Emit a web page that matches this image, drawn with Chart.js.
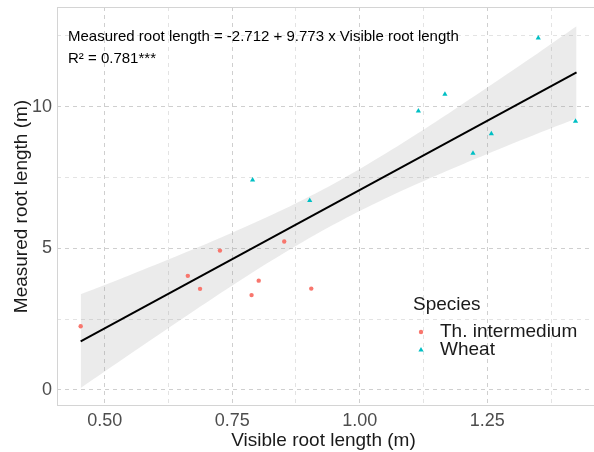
<!DOCTYPE html>
<html>
<head>
<meta charset="utf-8">
<script src="https://cdn.jsdelivr.net/npm/chart.js@4/dist/chart.umd.min.js"></script>
<style>
  html, body { margin: 0; padding: 0; background: #fff; }
  canvas { display: block; }
</style>
</head>
<body>
<canvas id="chart" width="594" height="452"></canvas>
<script>
// Th. intermedium (vermelho)
const thX = [0.453, 0.663, 0.687, 0.726, 0.788, 0.802, 0.852, 0.905]
const thY = [2.25, 4.03, 3.57, 4.92, 3.35, 3.86, 5.24, 3.58]

// Wheat (ciano)
const wheatX = [0.790, 0.902, 1.115, 1.167, 1.222, 1.258, 1.350, 1.423]
const wheatY = [7.41, 6.69, 9.85, 10.44, 8.36, 9.05, 12.43, 9.49]

// Reta ajustada e faixa de confiança
const fitX = [0.453, 1.425]
const fitY = [1.715, 11.21]
const bandX = [0.453, 0.55, 0.65, 0.75, 0.85, 0.95, 1.05, 1.15, 1.25, 1.35, 1.425]
const bandUpper = [3.38, 4.06, 4.79, 5.55, 6.37, 7.29, 8.34, 9.48, 10.68, 11.90, 12.84]
const bandLower = [0.07, 1.27, 2.49, 3.69, 4.82, 5.85, 6.76, 7.57, 8.33, 9.06, 9.58]

// Ticks (major com rótulo, minor sem)
const xTicks = [0.5, 0.625, 0.75, 0.875, 1.0, 1.125, 1.25, 1.375]
const xLabels = ['0.50', '', '0.75', '', '1.00', '', '1.25', '']
const yTicks = [0, 2.5, 5, 7.5, 10, 12.5]
const yLabels = ['0', '', '5', '', '10', '']

const species = ['Th. intermedium', 'Wheat']
const equationText = 'Measured root length = -2.712 + 9.773 x Visible root length'
const r2Text = 'R\u00b2 = 0.781***'

const FONT = "'Liberation Sans', Arial, sans-serif"
const RED = '#F8766D'
const CYAN = '#00BFC4'

const toPoints = (xs, ys) => xs.map((x, i) => ({ x: x, y: ys[i] }))

// Legenda e texto da equação desenhados à mão
const annotationPlugin = {
  id: 'annotations',
  afterDraw(chart) {
    const ctx = chart.ctx
    ctx.save()
    ctx.fillStyle = '#000'
    ctx.textBaseline = 'alphabetic'
    ctx.font = `15px ${FONT}`
    ctx.fillText(equationText, 68, 41)
    ctx.fillText(r2Text, 68, 63)

    // legenda Species
    ctx.fillStyle = '#1a1a1a'
    ctx.font = `19px ${FONT}`
    ctx.fillText('Species', 413, 310)
    const styles = [
      { color: RED, pointStyle: 'circle', radius: 2.2 },
      { color: CYAN, pointStyle: 'triangle', radius: 3 }
    ]
    const rows = [332, 350]
    species.forEach((name, i) => {
      const s = styles[i]
      ctx.fillStyle = s.color
      ctx.strokeStyle = s.color
      Chart.helpers.drawPoint(ctx, { pointStyle: s.pointStyle, radius: s.radius, rotation: 0, borderWidth: 0 }, 421, rows[i])
      ctx.fillStyle = '#1a1a1a'
      ctx.font = `19px ${FONT}`
      ctx.textBaseline = 'middle'
      ctx.fillText(name, 440, rows[i])
    })

    // borda do painel
    const a = chart.chartArea
    ctx.strokeStyle = '#d4d4d4'
    ctx.lineWidth = 1
    ctx.strokeRect(a.left + 0.5, a.top + 0.5, a.right - a.left + 10, a.bottom - a.top - 1)
    ctx.restore()
  }
}

const chart = new Chart(document.getElementById('chart'), {
  type: 'scatter',
  data: {
    datasets: [
      {
        label: 'Th. intermedium',
        data: toPoints(thX, thY),
        backgroundColor: RED,
        borderColor: RED,
        pointStyle: 'circle',
        pointRadius: 2.2,
        pointBorderWidth: 0,
        order: 0
      },
      {
        label: 'Wheat',
        data: toPoints(wheatX, wheatY),
        backgroundColor: CYAN,
        borderColor: CYAN,
        pointStyle: 'triangle',
        pointRadius: 3,
        pointBorderWidth: 0,
        order: 0
      },
      {
        type: 'line',
        label: 'fit',
        data: toPoints(fitX, fitY),
        borderColor: '#000',
        borderWidth: 2,
        pointRadius: 0,
        fill: false,
        order: 1
      },
      {
        type: 'line',
        label: 'upper',
        data: toPoints(bandX, bandUpper),
        borderWidth: 0,
        borderColor: 'rgba(0,0,0,0)',
        backgroundColor: 'rgba(153,153,153,0.2)',
        pointRadius: 0,
        tension: 0.3,
        fill: '+1',
        order: 2
      },
      {
        type: 'line',
        label: 'lower',
        data: toPoints(bandX, bandLower),
        borderWidth: 0,
        borderColor: 'rgba(0,0,0,0)',
        pointRadius: 0,
        tension: 0.3,
        fill: false,
        order: 2
      }
    ]
  },
  options: {
    responsive: false,
    animation: false,
    layout: { padding: { top: 7, left: 0, right: 0, bottom: 0 } },
    plugins: {
      legend: { display: false },
      tooltip: { enabled: false }
    },
    scales: {
      x: {
        type: 'linear',
        min: 0.4066,
        max: 1.4514,
        afterBuildTicks: (scale) => { scale.ticks = xTicks.map(v => ({ value: v })) },
        afterFit: (scale) => {
          scale.height = 46
          scale.paddingLeft = 0
          scale.paddingRight = 0
        },
        ticks: {
          autoSkip: false,
          maxRotation: 0,
          padding: 4,
          color: '#4d4d4d',
          font: { family: FONT, size: 18 },
          callback: (value, index) => xLabels[index]
        },
        grid: {
          drawTicks: false,
          color: (ctx) => (ctx.index % 2 === 0 ? '#cfcfcf' : '#e3e3e3'),
          lineWidth: 1
        },
        border: { display: false, dash: [4, 4] },
        title: {
          display: true,
          text: 'Visible root length (m)',
          color: '#1a1a1a',
          font: { family: FONT, size: 19 },
          padding: { top: 0, bottom: 0 }
        }
      },
      y: {
        type: 'linear',
        min: -0.565,
        max: 13.52,
        afterBuildTicks: (scale) => { scale.ticks = yTicks.map(v => ({ value: v })) },
        afterFit: (scale) => {
          scale.width = 57
          scale.paddingTop = 0
          scale.paddingBottom = 0
        },
        ticks: {
          autoSkip: false,
          padding: 5,
          color: '#4d4d4d',
          font: { family: FONT, size: 18 },
          callback: (value, index) => yLabels[index]
        },
        grid: {
          drawTicks: false,
          color: (ctx) => (ctx.index % 2 === 0 ? '#cfcfcf' : '#e3e3e3'),
          lineWidth: 1
        },
        border: { display: false, dash: [4, 4] },
        title: {
          display: true,
          text: 'Measured root length (m)',
          color: '#1a1a1a',
          font: { family: FONT, size: 19 },
          padding: { top: 10, bottom: 0 }
        }
      }
    }
  },
  plugins: [annotationPlugin]
})
</script>
</body>
</html>
